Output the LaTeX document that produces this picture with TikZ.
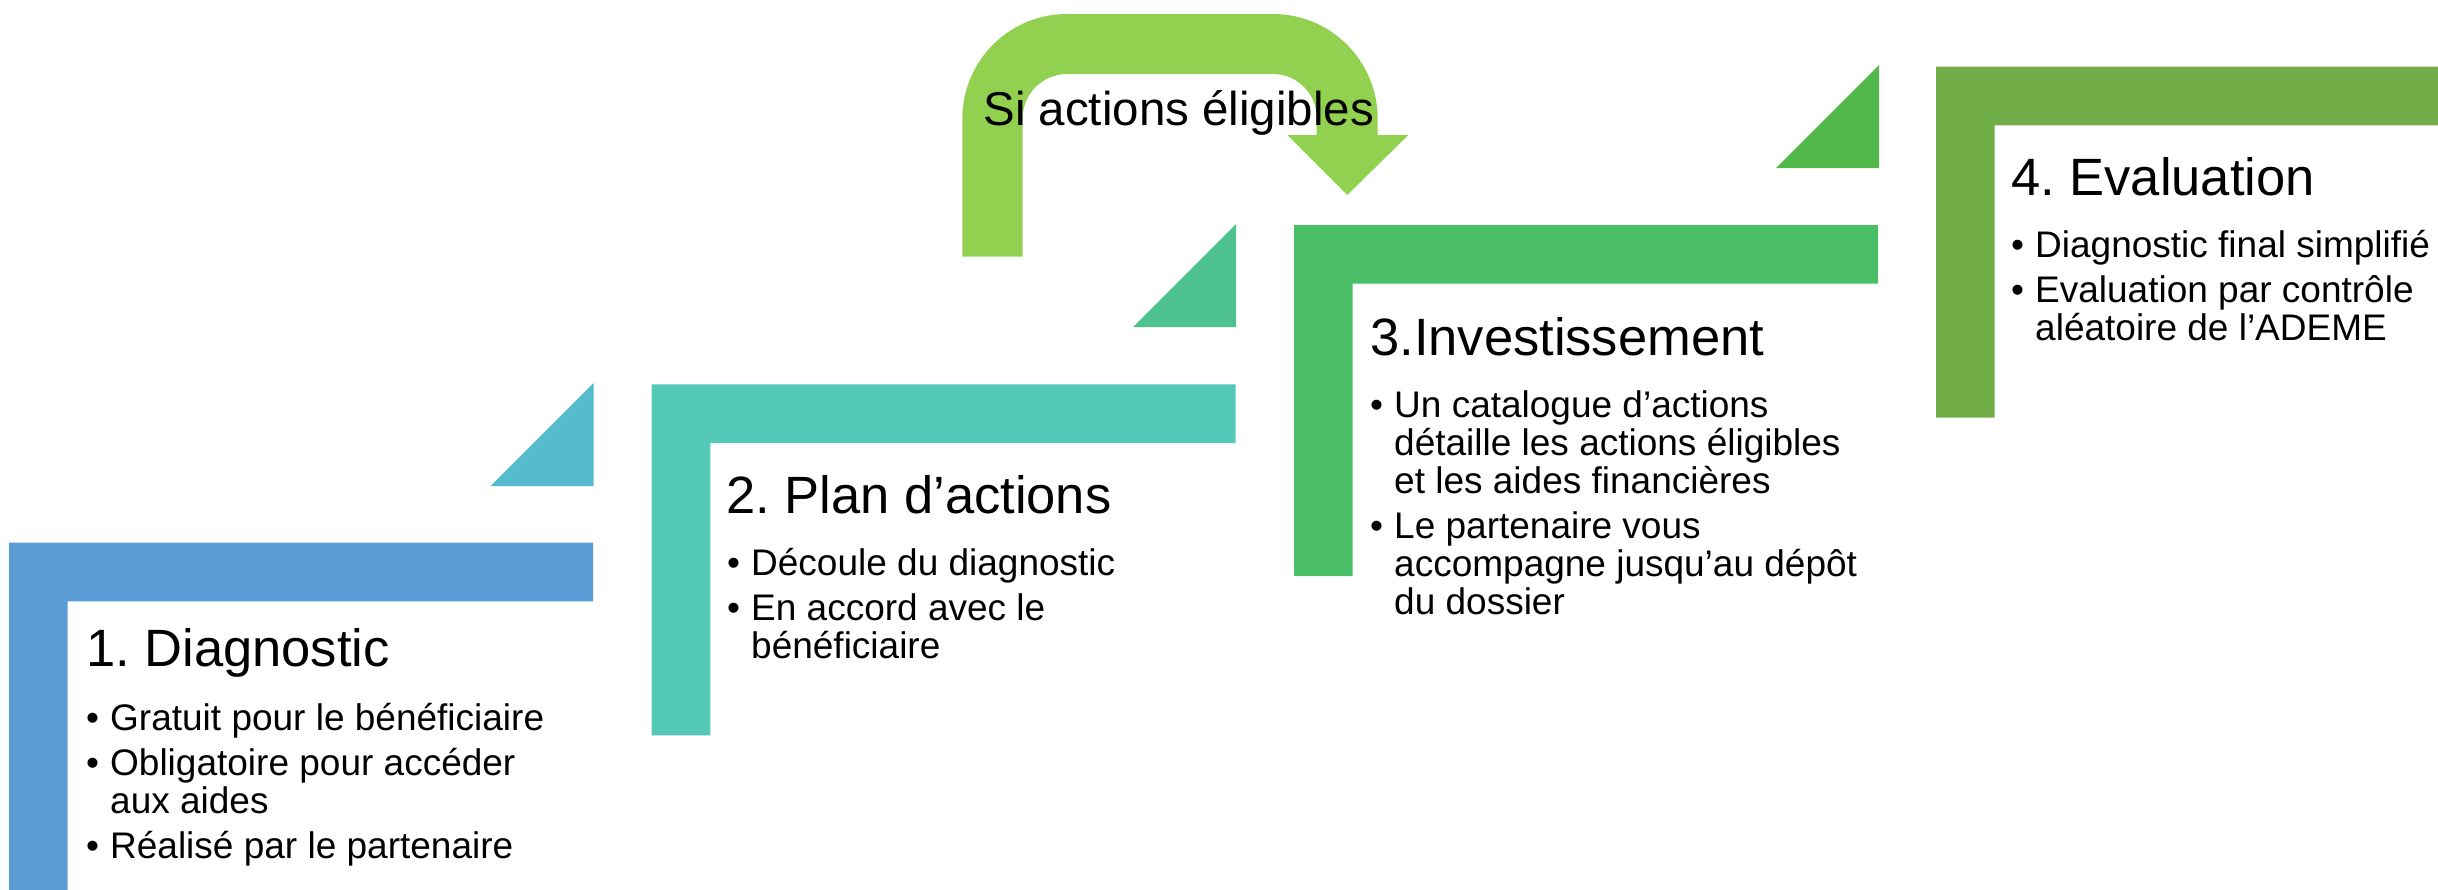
\documentclass[tikz,border=0pt]{standalone}
\usepackage{fontspec}
\setmainfont{Liberation Sans}
\frenchspacing
\definecolor{cBlue}{HTML}{5B9BD5}
\definecolor{cTeal}{HTML}{55C9B7}
\definecolor{cGreen}{HTML}{4ABF68}
\definecolor{cOlive}{HTML}{70AD47}
\definecolor{cTriA}{HTML}{57BBCE}
\definecolor{cTriB}{HTML}{4FC38F}
\definecolor{cTriC}{HTML}{50B748}
\definecolor{cArrow}{HTML}{92D050}
\newcommand\bl[1]{\hbox{\makebox[24pt][l]{•}#1}}
\newcommand\cl[1]{\hbox{\hspace*{24pt}#1}}
\newcommand\pgap{\vskip7pt}
\newcommand\blist[1]{\vtop{\baselineskip=38pt\lineskiplimit=-100pt\lineskip=0pt #1}}
% L-shaped step: #1 left, #2 top, #3 colour
\newcommand\stepL[3]{%
  \fill[#3] (#1,#2) -- ++(584,0) -- ++(0,58.7) -- ++(-525.3,0) -- ++(0,292.3) -- ++(-58.7,0) -- cycle;}
% corner triangle: #1 right, #2 bottom, #3 colour
\newcommand\stepTri[3]{%
  \fill[#3] (#1,#2) -- ++(0,-103) -- ++(0,0) -- (#1-103,#2) -- cycle;}
\begin{document}
\begin{tikzpicture}[x=1pt,y=-1pt,
  steptitle/.style={anchor=base west, inner sep=0pt, font=\fontsize{52.5}{60}\selectfont},
  stepbullets/.style={anchor=base west, inner sep=0pt, font=\fontsize{37}{38}\selectfont},
  looplabel/.style={anchor=base, inner sep=0pt, font=\fontsize{47.5}{55}\selectfont}]
\useasboundingbox (0,0) rectangle (2438,889);
\clip (0,0) rectangle (2438,889);

% steps
\stepL{9}{542.7}{cBlue}
\stepL{651.7}{384.3}{cTeal}
\stepL{1294}{225}{cGreen}
\stepL{1936}{66.7}{cOlive}

% triangles
\stepTri{593.5}{486}{cTriA}
\stepTri{1236}{327}{cTriB}
\stepTri{1879}{168}{cTriC}

% U-turn arrow
\fill[cArrow] (962.3,256.7) -- (962.3,119)
  .. controls (962.3,61) and (1009,14) .. (1067,14)
  -- (1273,14)
  .. controls (1331,14) and (1377.7,61) .. (1377.7,119)
  -- (1377.7,135) -- (1408.3,135) -- (1347.3,195) -- (1287.3,135) -- (1316.7,135)
  -- (1316.7,118)
  .. controls (1316.7,93.7) and (1297.3,74) .. (1273,74)
  -- (1067,74)
  .. controls (1042.7,74) and (1022.7,93.7) .. (1022.7,118)
  -- (1022.7,256.7) -- cycle;
\node[looplabel] (loop) at (1178.7,125) {Si actions éligibles};

% step 1
\node[steptitle] (t1) at (86,666.7) {1. Diagnostic};
\node[stepbullets] (b1) at (86,730) {\blist{%
  \bl{Gratuit pour le bénéficiaire}\pgap
  \bl{Obligatoire pour accéder}
  \cl{aux aides}\pgap
  \bl{Réalisé par le partenaire}}};

% step 2
\node[steptitle] (t2) at (726,513.3) {2. Plan d’actions};
\node[stepbullets] (b2) at (727,575.7) {\blist{%
  \bl{Découle du diagnostic}\pgap
  \bl{En accord avec le}
  \cl{bénéficiaire}}};

% step 3
\node[steptitle] (t3) at (1370,355) {3.Investissement};
\node[stepbullets] (b3) at (1370,417.7) {\blist{%
  \bl{Un catalogue d’actions}
  \cl{détaille les actions éligibles}
  \cl{et les aides financières}\pgap
  \bl{Le partenaire vous}
  \cl{accompagne jusqu’au dépôt}
  \cl{du dossier}}};

% step 4
\node[steptitle] (t4) at (2011,195.7) {4. Evaluation};
\node[stepbullets] (b4) at (2011,257.7) {\blist{%
  \bl{Diagnostic final simplifié}\pgap
  \bl{Evaluation par contrôle}
  \cl{aléatoire de l’ADEME}}};
\end{tikzpicture}
\end{document}
